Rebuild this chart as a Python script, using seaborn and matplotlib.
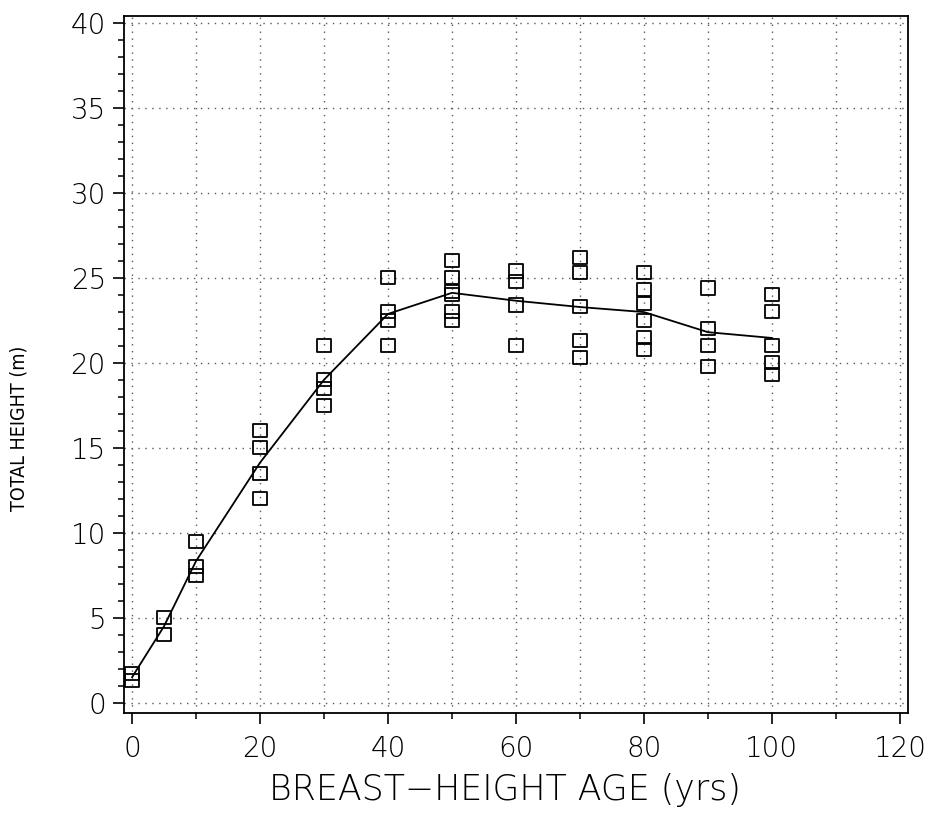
import matplotlib
matplotlib.use("Agg")
import matplotlib.pyplot as plt
import seaborn as sns
import pandas as pd
from matplotlib.ticker import MultipleLocator

# Data
age = [0, 0,
       5, 5,
       10, 10, 10,
       20, 20, 20, 20,
       30, 30, 30, 30,
       40, 40, 40, 40,
       50, 50, 50, 50, 50, 50,
       60, 60, 60, 60,
       70, 70, 70, 70, 70,
       80, 80, 80, 80, 80, 80,
       90, 90, 90, 90,
       100, 100, 100, 100, 100]
height = [1.7, 1.3,
          5.0, 4.0,
          9.5, 8.0, 7.5,
          16.0, 15.0, 13.5, 12.0,
          21.0, 19.0, 18.5, 17.5,
          25.0, 23.0, 22.5, 21.0,
          26.0, 25.0, 24.2, 24.0, 23.0, 22.5,
          25.4, 24.8, 23.4, 21.0,
          26.2, 25.3, 23.3, 21.3, 20.3,
          25.3, 24.3, 23.5, 22.5, 21.5, 20.8,
          24.4, 22.0, 21.0, 19.8,
          24.0, 23.0, 21.0, 20.0, 19.3]
x_ticks = [0, 20, 40, 60, 80, 100, 120]
y_ticks = [0, 5, 10, 15, 20, 25, 30, 35, 40]
x_label = "BREAST\u2212HEIGHT AGE (yrs)"
y_label = "TOTAL HEIGHT (m)"

df = pd.DataFrame({"age": age, "height": height})

sns.set_style("ticks")
plt.rcParams["font.family"] = ["DejaVu Sans"]

fig = plt.figure(figsize=(9.32, 8.15), dpi=100)
ax = fig.add_axes([124 / 932, 1 - 713 / 815, (908 - 124) / 932, (713 - 16) / 815])

sns.lineplot(data=df, x="age", y="height", estimator="mean", errorbar=None,
             color="black", linewidth=1.3, ax=ax, zorder=3)
sns.scatterplot(data=df, x="age", y="height", marker="s", s=90,
                facecolor="none", edgecolor="black", linewidth=1.3,
                ax=ax, zorder=4)

ax.set_xlim(-1.25, 121.25)
ax.set_ylim(-0.6, 40.4)
ax.set_xticks(x_ticks)
ax.set_yticks(y_ticks)
ax.xaxis.set_minor_locator(MultipleLocator(10))
ax.yaxis.set_minor_locator(MultipleLocator(1))

ax.grid(True, which="both", axis="x", linestyle=(0, (1, 4)), color="0.35", linewidth=1.0)
ax.grid(True, which="major", axis="y", linestyle=(0, (1, 4)), color="0.35", linewidth=1.0)
ax.set_axisbelow(True)

for sp in ax.spines.values():
    sp.set_visible(True)
    sp.set_color("black")
    sp.set_linewidth(1.3)

ax.tick_params(axis="both", which="major", direction="out", length=8, width=1.2,
               color="black", labelsize=20, labelcolor="black")
ax.tick_params(axis="both", which="minor", direction="out", length=4, width=1.1,
               color="black")
ax.tick_params(axis="y", which="major", pad=5)
ax.tick_params(axis="x", which="major", pad=8)
for lab in ax.get_xticklabels() + ax.get_yticklabels():
    lab.set_fontweight("light")

ax.set_xlabel("")
ax.set_ylabel("")
fig.text(505 / 932, 1 - 790 / 815, x_label, ha="center", va="center",
         fontsize=25, fontweight="light", color="black")
fig.text(19 / 932, 1 - 428 / 815, y_label, ha="center", va="center",
         rotation=90, fontsize=14, fontstretch="condensed", color="black")

fig.savefig("out.png", dpi=100, facecolor="white")
